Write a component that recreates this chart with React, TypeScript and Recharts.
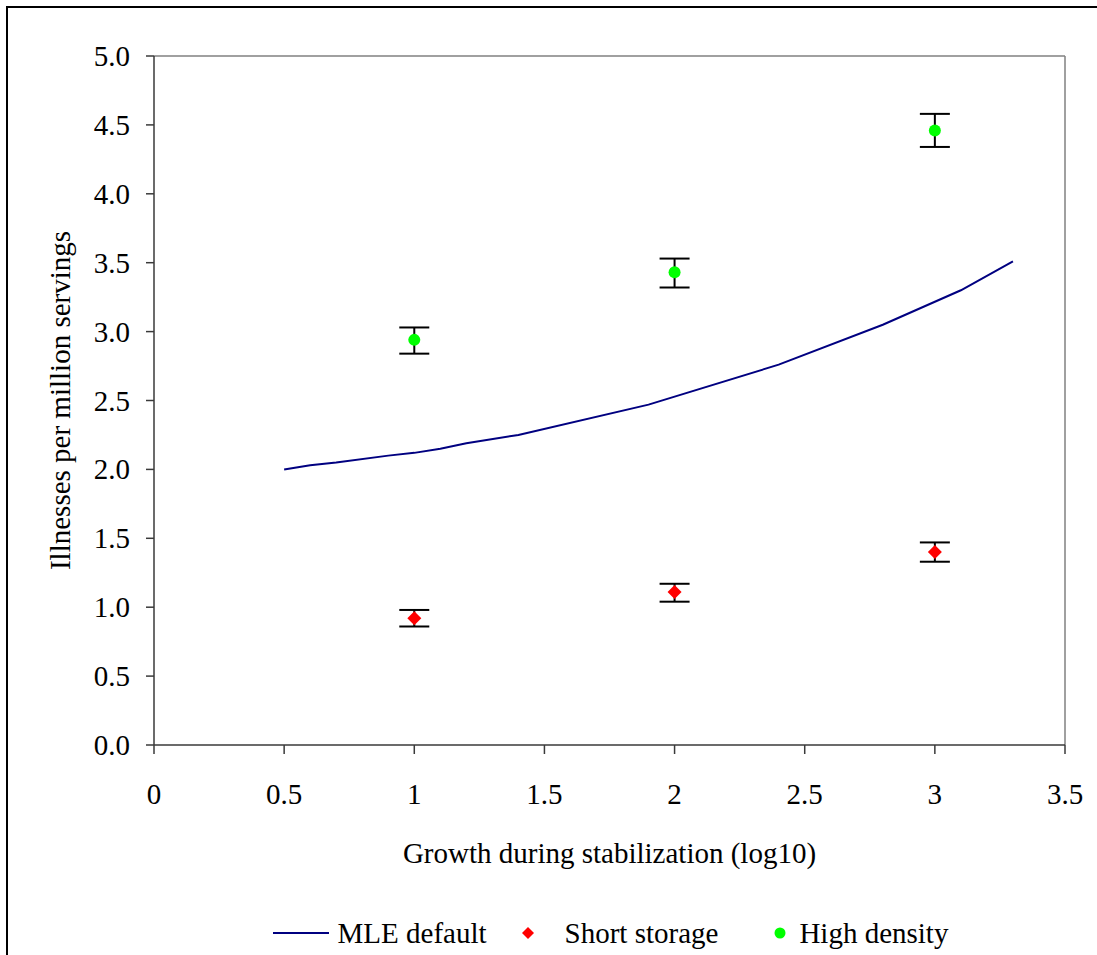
import {
  ComposedChart,
  Line,
  Scatter,
  XAxis,
  YAxis,
  ErrorBar,
  ReferenceLine,
  Legend,
} from 'recharts'

// MLE default curve (kinks)
const mleX = [0.5, 0.6, 0.7, 0.9, 1.0, 1.1, 1.2, 1.4, 1.9, 2.4, 2.8, 3.1, 3.3]
const mleY = [2.0, 2.03, 2.05, 2.1, 2.12, 2.15, 2.19, 2.25, 2.47, 2.76, 3.05, 3.3, 3.51]

const pointX = [1, 2, 3]
const shortY = [0.92, 1.11, 1.4]
const shortErr = [[0.06, 0.06], [0.07, 0.06], [0.07, 0.07]]
const denseY = [2.94, 3.43, 4.46]
const denseErr = [[0.1, 0.09], [0.11, 0.1], [0.12, 0.12]]

const xTicks = [0, 0.5, 1, 1.5, 2, 2.5, 3, 3.5]
const yTicks = [0, 0.5, 1, 1.5, 2, 2.5, 3, 3.5, 4, 4.5, 5]
const legendOrder = ['MLE default', 'Short storage', 'High density']

const mleData = mleX.map((x, i) => ({ x, y: mleY[i] }))
const shortData = pointX.map((x, i) => ({ x, y: shortY[i], err: shortErr[i] }))
const denseData = pointX.map((x, i) => ({ x, y: denseY[i], err: denseErr[i] }))

const FONT = '"Times New Roman", "Liberation Serif", serif'
const FS = 29
const AXIS = '#3a3a3a'

function SerifText({ x, y, anchor = 'middle', angle = 0, children }: any) {
  return (
    <text
      x={x}
      y={y}
      textAnchor={anchor}
      dominantBaseline="central"
      transform={angle ? `rotate(${angle},${x},${y})` : undefined}
      fontFamily={FONT}
      fontSize={FS}
      fill="#000"
    >
      {children}
    </text>
  )
}

const YTick = ({ x, y, payload }: any) => (
  <SerifText x={x} y={y} anchor="end">{Number(payload.value).toFixed(1)}</SerifText>
)
const XTick = ({ x, y, payload }: any) => (
  <SerifText x={x} y={y}>{String(payload.value)}</SerifText>
)

const Diamond = ({ cx, cy }: any) => (
  <polygon points={`${cx},${cy - 7} ${cx + 7},${cy} ${cx},${cy + 7} ${cx - 7},${cy}`} fill="#FF0000" />
)
const Dot = ({ cx, cy }: any) => <circle cx={cx} cy={cy} r={6} fill="#00FF00" />

// spacing of legend entries, as in the picture
const iconGap: Record<string, number> = { line: 9, diamond: 30, circle: 12 }
const itemGap: Record<string, number> = { line: 0, diamond: 34, circle: 55 }

function LegendContent({ payload }: any) {
  const items = [...(payload || [])].sort(
    (a: any, b: any) => legendOrder.indexOf(a.value) - legendOrder.indexOf(b.value)
  )
  return (
    <div style={{ display: 'flex', justifyContent: 'center', alignItems: 'center', height: 40, fontFamily: FONT, fontSize: FS }}>
      {items.map((p: any) => (
        <div key={p.value} style={{ display: 'flex', alignItems: 'center', marginLeft: itemGap[p.type] }}>
          <svg width={p.type === 'line' ? 56 : 14} height={14} style={{ marginRight: iconGap[p.type] }}>
            {p.type === 'line' && <line x1={0} y1={7} x2={56} y2={7} stroke={p.color} strokeWidth={2} />}
            {p.type === 'diamond' && <polygon points="7,1 13,7 7,13 1,7" fill={p.color} />}
            {p.type === 'circle' && <circle cx={7} cy={7} r={5.5} fill={p.color} />}
          </svg>
          <span style={{ whiteSpace: 'nowrap' }}>{p.value}</span>
        </div>
      ))}
    </div>
  )
}

export default function App() {
  return (
    <div style={{ position: 'absolute', left: 0, top: 0, width: 1097, height: 955, overflow: 'hidden', background: '#fff' }}>
      <div style={{ position: 'absolute', left: 6, top: 6, width: 1200, height: 1100, border: '2px solid #000' }} />
      <div style={{ position: 'absolute', left: 0, top: 0 }}>
        <ComposedChart width={1097} height={955} margin={{ top: 56, right: 32, left: 20, bottom: 50 }}>
          <XAxis
            type="number"
            dataKey="x"
            domain={[0, 3.5]}
            ticks={xTicks}
            allowDataOverflow
            stroke={AXIS}
            strokeWidth={1.5}
            tickSize={9}
            tickMargin={40}
            height={120}
            tick={<XTick />}
            label={{
              content: ({ viewBox }: any) => (
                <SerifText x={viewBox.x + viewBox.width / 2} y={viewBox.y + 108}>
                  Growth during stabilization (log10)
                </SerifText>
              ),
            }}
          />
          <YAxis
            type="number"
            domain={[0, 5]}
            ticks={yTicks}
            allowDataOverflow
            stroke={AXIS}
            strokeWidth={1.5}
            tickSize={8}
            tickMargin={16}
            width={134}
            tick={<YTick />}
            label={{
              content: ({ viewBox }: any) => (
                <SerifText x={viewBox.x + 40} y={viewBox.y + viewBox.height / 2} angle={-90}>
                  Illnesses per million servings
                </SerifText>
              ),
            }}
          />
          <ReferenceLine y={5} stroke="#808080" strokeWidth={1.5} />
          <ReferenceLine x={3.5} stroke="#808080" strokeWidth={1.5} />
          <Line
            data={mleData}
            dataKey="y"
            name="MLE default"
            stroke="#000080"
            strokeWidth={2}
            dot={false}
            legendType="line"
            isAnimationActive={false}
          />
          <Scatter data={shortData} dataKey="y" name="Short storage" fill="#FF0000" shape={<Diamond />} legendType="diamond" isAnimationActive={false}>
            <ErrorBar dataKey="err" direction="y" width={15} stroke="#000" strokeWidth={2} isAnimationActive={false} />
          </Scatter>
          <Scatter data={denseData} dataKey="y" name="High density" fill="#00FF00" shape={<Dot />} legendType="circle" isAnimationActive={false}>
            <ErrorBar dataKey="err" direction="y" width={15} stroke="#000" strokeWidth={2} isAnimationActive={false} />
          </Scatter>
          <Legend
            verticalAlign="bottom"
            content={<LegendContent />}
            wrapperStyle={{ top: 913, left: 124, width: 973, height: 40 }}
          />
        </ComposedChart>
      </div>
    </div>
  )
}
